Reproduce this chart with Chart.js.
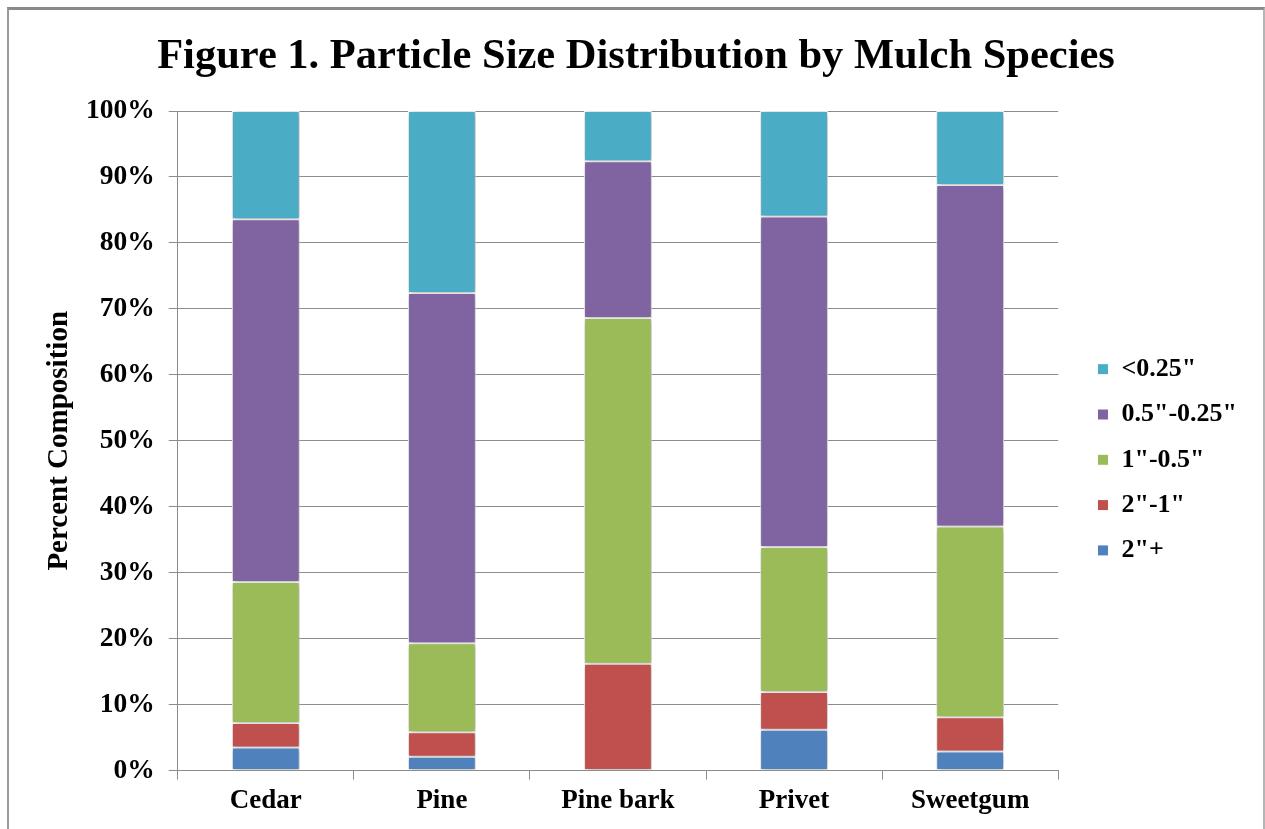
<!DOCTYPE html>
<html>
<head>
<meta charset="utf-8">
<script src="https://cdn.jsdelivr.net/npm/chart.js@4.4.1/dist/chart.umd.min.js"></script>
<style>
  html, body { margin: 0; padding: 0; background: #fff; }
  #wrap { position: relative; width: 1265px; height: 829px; }
  #frame {
    position: absolute; left: 7px; top: 7px; width: 1254px; height: 830px;
    border-top: 3px solid #8a8a8a; border-left: 2px solid #9a9a9a; border-right: 2px solid #b5b5b5;
    pointer-events: none;
  }
  canvas { position: absolute; left: 0; top: 0; }
</style>
</head>
<body>
<div id="wrap">
  <canvas id="mulchChart" width="1265" height="829"></canvas>
  <div id="frame"></div>
</div>
<script>
// Particle size distribution (% of sample)
const species = ['Cedar', 'Pine', 'Pine bark', 'Privet', 'Sweetgum'];
const sizeOver2 = [3.5, 2.1, 0, 6.2, 2.9];        // 2"+
const size2to1 = [3.7, 3.7, 16.2, 5.7, 5.2];      // 2"-1"
const size1toHalf = [21.4, 13.5, 52.4, 22.0, 28.9]; // 1"-0.5"
const sizeHalfToQuarter = [55.0, 53.1, 23.8, 50.1, 51.8]; // 0.5"-0.25"
const sizeUnderQuarter = [16.4, 27.6, 7.6, 16.0, 11.2];   // <0.25"
const yTicks = [0, 10, 20, 30, 40, 50, 60, 70, 80, 90, 100];

const serif = "'Liberation Serif', 'Times New Roman', serif";
const gridGray = '#8c8c8c';

// soft halo round the bars, like the Excel original
const barShadow = {
    id: 'barShadow',
    beforeDatasetsDraw(chart) {
        const c = chart.ctx;
        c.save();
        c.shadowColor = 'rgba(0,0,0,0.35)';
        c.shadowBlur = 6;
        c.shadowOffsetX = 1;
        c.shadowOffsetY = 1;
    },
    afterDatasetsDraw(chart) {
        chart.ctx.restore();
    }
};

// nudge legend away from the plot and centre the title like the original
const layoutNudge = {
    id: 'layoutNudge',
    afterLayout(chart) {
        chart.legend.left += 20;
        chart.legend.right += 20;
        chart.titleBlock.left += 7.5;
        chart.titleBlock.right += 7.5;
    }
};

const ctx = document.getElementById('mulchChart').getContext('2d');
const mulchChart = new Chart(ctx, {
    type: 'bar',
    data: {
        labels: species,
        datasets: [
            { label: '2"+', data: sizeOver2, backgroundColor: '#4F81BD' },
            { label: '2"-1"', data: size2to1, backgroundColor: '#C0504D' },
            { label: '1"-0.5"', data: size1toHalf, backgroundColor: '#9BBB59' },
            { label: '0.5"-0.25"', data: sizeHalfToQuarter, backgroundColor: '#8064A2' },
            { label: '<0.25"', data: sizeUnderQuarter, backgroundColor: '#4BACC6' }
        ].map(d => Object.assign(d, {
            borderColor: '#ffffff',
            borderWidth: 1,
            borderSkipped: false,
            categoryPercentage: 1,
            barPercentage: 0.385
        }))
    },
    plugins: [barShadow, layoutNudge],
    options: {
        responsive: false,
        animation: false,
        layout: { padding: { left: 30, right: 38, top: 0, bottom: 7 } },
        plugins: {
            title: {
                display: true,
                text: 'Figure 1. Particle Size Distribution by Mulch Species',
                color: '#000',
                font: { family: serif, size: 42.5, weight: 'bold' },
                padding: { top: 32, bottom: 28 }
            },
            legend: {
                position: 'right',
                fullSize: false,
                reverse: true,
                title: { display: true, text: ' ', font: { size: 20 }, padding: 7 },
                labels: {
                    color: '#000',
                    font: { family: serif, size: 26, weight: 'bold' },
                    boxWidth: 11,
                    boxHeight: 11,
                    padding: 19.3
                }
            },
            tooltip: { enabled: false }
        },
        scales: {
            x: {
                stacked: true,
                border: { display: true, color: gridGray, width: 1 },
                grid: { display: true, drawOnChartArea: false, offset: true, color: gridGray, tickLength: 9 },
                ticks: {
                    color: '#000',
                    padding: 5,
                    font: { family: serif, size: 27, weight: 'bold' }
                }
            },
            y: {
                stacked: true,
                min: 0,
                max: 100,
                afterBuildTicks(axis) {
                    axis.ticks = yTicks.map(v => ({ value: v }));
                },
                border: { display: true, color: gridGray, width: 1 },
                grid: { color: gridGray, lineWidth: 1, tickLength: 9 },
                ticks: {
                    color: '#000',
                    padding: 14,
                    font: { family: serif, size: 27.5, weight: 'bold' },
                    callback: v => v + '%'
                },
                title: {
                    display: true,
                    text: 'Percent Composition',
                    color: '#000',
                    font: { family: serif, size: 29, weight: 'bold' },
                    padding: { top: 12.6, bottom: -5.4 }
                }
            }
        }
    }
});
</script>
</body>
</html>
